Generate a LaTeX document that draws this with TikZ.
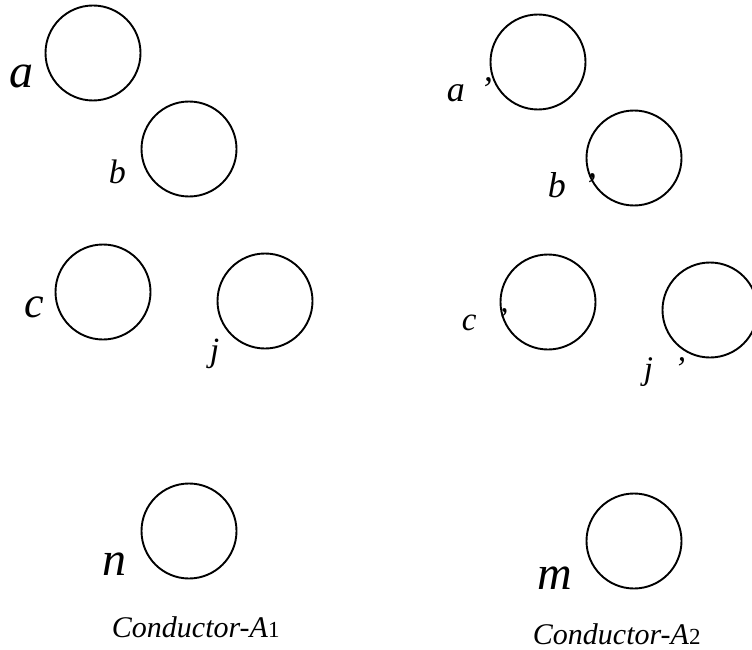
\documentclass[tikz,border=0pt]{standalone}
\usepackage{fontspec}
\setmainfont{Liberation Serif}
\usepackage{tikz}
\usetikzlibrary{positioning}
\newcommand{\lsz}[1]{\fontsize{#1}{#1}\selectfont\itshape}
\newcommand{\csub}[1]{{\fontsize{23}{23}\selectfont\upshape #1}}

\begin{document}
\begin{tikzpicture}[x=1pt,y=-1pt,line width=1.9pt,
    wire/.style={circle,draw,minimum size=95pt,inner sep=0pt},
    lbl/.style={anchor=base west,inner sep=0pt}]
  \useasboundingbox (0,0) rectangle (752,650);
  % conductor A1
  \node[wire] (a) at (93,53) {};
  \node[wire] (b) at (189,149) {};
  \node[wire] (c) at (103,292) {};
  \node[wire] (j) at (265,301) {};
  \node[wire] (n) at (189,531) {};
  \node[lbl,font={\lsz{48}}] (la) at (9,88) {a};
  \node[lbl,font={\lsz{34}}] (lb) at (108,183) {b};
  \node[lbl,font={\lsz{44}}] (lc) at (24,317) {c};
  \node[lbl,font={\lsz{34}}] (lj) at (209,361) {j};
  \node[lbl,font={\lsz{48}}] (ln) at (102,575) {n};
  \node[lbl,font={\lsz{30}}] (tA1) at (111,637) {Conductor-A\csub{1}};
  % conductor A2
  \node[wire] (a2) at (538,62) {};
  \node[wire] (b2) at (634,158) {};
  \node[wire] (c2) at (548,302) {};
  \node[wire] (j2) at (710,310) {};
  \node[wire] (m) at (634,541) {};
  \node[lbl,font={\lsz{36}}] (la2) at (446,102) {a\hspace{15pt}'};
  \node[lbl,font={\lsz{36}}] (lb2) at (547,197) {b\hspace{18pt}'};
  \node[lbl,font={\lsz{33}}] (lc2) at (461,330) {c\hspace{20pt}'};
  \node[lbl,font={\lsz{33}}] (lj2) at (643,379) {j\hspace{21pt}'};
  \node[lbl,font={\lsz{48}}] (lm) at (537,589) {m};
  \node[lbl,font={\lsz{30}}] (tA2) at (532,644) {Conductor-A\csub{2}};
\end{tikzpicture}
\end{document}
